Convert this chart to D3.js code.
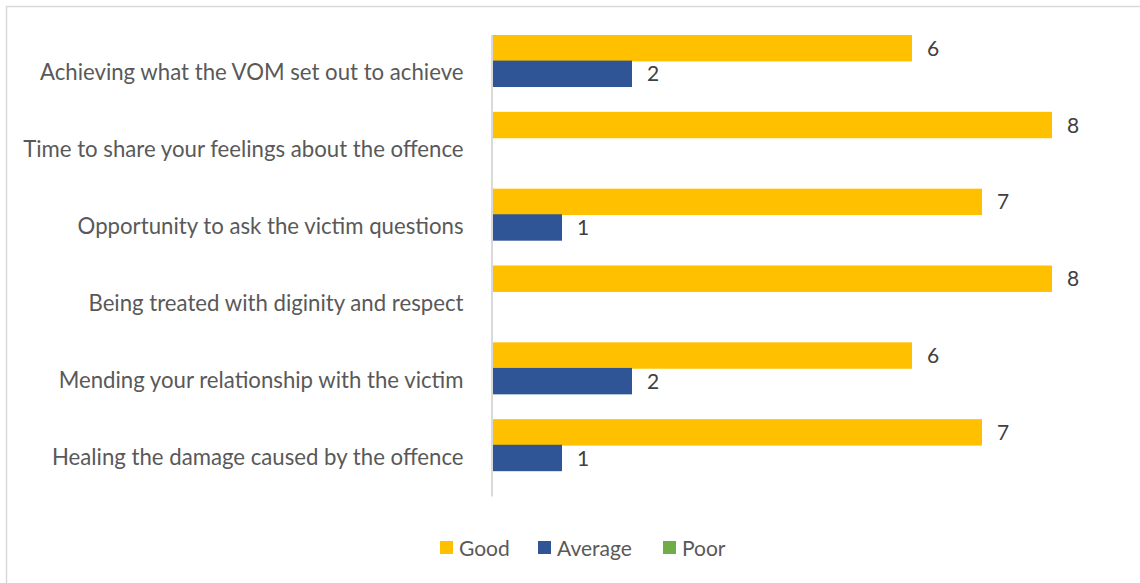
<!DOCTYPE html>
<html>
<head>
<meta charset="utf-8">
<script src="https://cdn.jsdelivr.net/npm/d3@7"></script>
<style>
  html, body { margin: 0; padding: 0; background: #fff; }
  svg { display: block; }
</style>
</head>
<body>
<svg id="chart" width="1140" height="583"></svg>
<script>
// Survey ratings per aspect of the mediation meeting
const categories = [
  "Achieving what the VOM set out to achieve",
  "Time to share your feelings about the offence",
  "Opportunity to ask the victim questions",
  "Being treated with diginity and respect",
  "Mending your relationship with the victim",
  "Healing the damage caused by the offence"
];
const seriesNames = ["Good", "Average", "Poor"];
const goodValues = [6, 8, 7, 8, 6, 7];
const averageValues = [2, 0, 1, 0, 2, 1];
const poorValues = [0, 0, 0, 0, 0, 0];
const seriesColors = ["#FFC000", "#2F5597", "#70AD47"];

const valuesBySeries = [goodValues, averageValues, poorValues];
const FONT = "Lato, 'Open Sans', sans-serif";

const svg = d3.select("#chart");

// chart area border
svg.append("rect")
  .attr("x", 6.5).attr("y", 6.5)
  .attr("width", 1150).attr("height", 600)
  .attr("fill", "none")
  .attr("stroke", "#d9d9d9")
  .attr("stroke-width", 1.5);

const plot = { left: 492, top: 35, bottom: 496 };

const x = d3.scaleLinear().domain([0, 1]).range([plot.left, plot.left + 70]);

const y = d3.scaleBand()
  .domain(categories)
  .range([plot.top, plot.bottom])
  .paddingInner(0).paddingOuter(0);

const inner = d3.scaleBand()
  .domain(seriesNames)
  .range([0, y.bandwidth()])
  .padding(0);

const rows = [];
categories.forEach((c, i) => {
  seriesNames.forEach((s, j) => {
    rows.push({ category: c, series: s, value: valuesBySeries[j][i], color: seriesColors[j] });
  });
});

// bars
svg.append("g").selectAll("rect")
  .data(rows.filter(d => d.value > 0))
  .join("rect")
  .attr("x", x(0))
  .attr("y", d => y(d.category) + inner(d.series))
  .attr("width", d => x(d.value) - x(0))
  .attr("height", inner.bandwidth() + 0.8)
  .attr("fill", d => d.color);

// value labels
svg.append("g").selectAll("text")
  .data(rows.filter(d => d.value > 0))
  .join("text")
  .attr("x", d => x(d.value) + 15)
  .attr("y", d => y(d.category) + inner(d.series) + inner.bandwidth() / 2)
  .attr("dy", -0.5)
  .attr("dominant-baseline", "central")
  .attr("font-family", FONT)
  .attr("font-size", 21)
  .attr("fill", "#404040")
  .text(d => d.value);

// vertical category axis
const yAxis = svg.append("g")
  .attr("transform", `translate(${x(0) - 0.5},0)`)
  .call(d3.axisLeft(y).tickSize(0).tickPadding(28));
yAxis.select(".domain").attr("stroke", "#d9d9d9").attr("stroke-width", 2);
yAxis.selectAll("text")
  .attr("font-family", FONT)
  .attr("font-size", 22.2)
  .attr("fill", "#595959")
  .attr("dy", -1.5)
  .attr("dominant-baseline", "central");

// legend
const legendX = [440, 538, 663];
const legend = svg.append("g");
seriesNames.forEach((s, i) => {
  const g = legend.append("g").attr("transform", `translate(${legendX[i]},541)`);
  g.append("rect").attr("width", 13).attr("height", 13).attr("fill", seriesColors[i]);
  g.append("text")
    .attr("x", 19).attr("y", 6.5)
    .attr("dominant-baseline", "central")
    .attr("font-family", FONT)
    .attr("font-size", 21)
    .attr("fill", "#595959")
    .text(s);
});
</script>
</body>
</html>
